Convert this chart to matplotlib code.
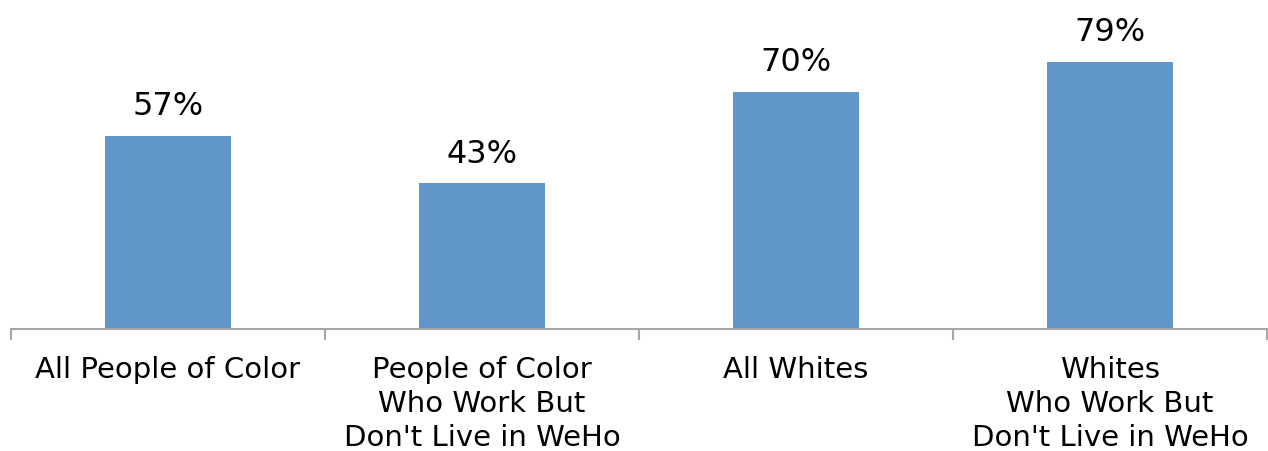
import numpy as np
import matplotlib.pyplot as plt

categories = ["All People of Color",
              "People of Color\nWho Work But\nDon't Live in WeHo",
              "All Whites",
              "Whites\nWho Work But\nDon't Live in WeHo"]
values = [57, 43, 70, 79]

bar_color = '#6096C9'
axis_color = '#A6A6A6'

fig = plt.figure(figsize=(12.68, 4.51), dpi=100)
ax = fig.add_axes([11 / 1268, 122 / 451, 1256 / 1268, 329 / 451])

x = np.arange(len(values))
bars = ax.bar(x, values, width=0.4, color=bar_color)

for xi, v in zip(x, values):
    ax.annotate('%d%%' % v, (xi, v), xytext=(0, 10), textcoords='offset points',
                ha='center', va='bottom', fontsize=23, family='DejaVu Sans')

ax.set_xlim(-0.5, len(values) - 0.5)
ax.set_ylim(0, 97.2)

for side in ['top', 'right', 'left']:
    ax.spines[side].set_visible(False)
ax.spines['bottom'].set_color(axis_color)
ax.spines['bottom'].set_linewidth(1.5)
ax.set_yticks([])

# category boundaries get the tick marks, names sit between them
ax.set_xticks(np.arange(len(values) + 1) - 0.5)
ax.set_xticklabels([])
ax.tick_params(axis='x', length=8, width=1.5, color=axis_color, direction='out')
ax.set_xticks(x, minor=True)
ax.set_xticklabels(categories, minor=True, fontsize=21, linespacing=1.26)
ax.tick_params(axis='x', which='minor', length=0, pad=19.5)

fig.savefig('out.png', dpi=100)
